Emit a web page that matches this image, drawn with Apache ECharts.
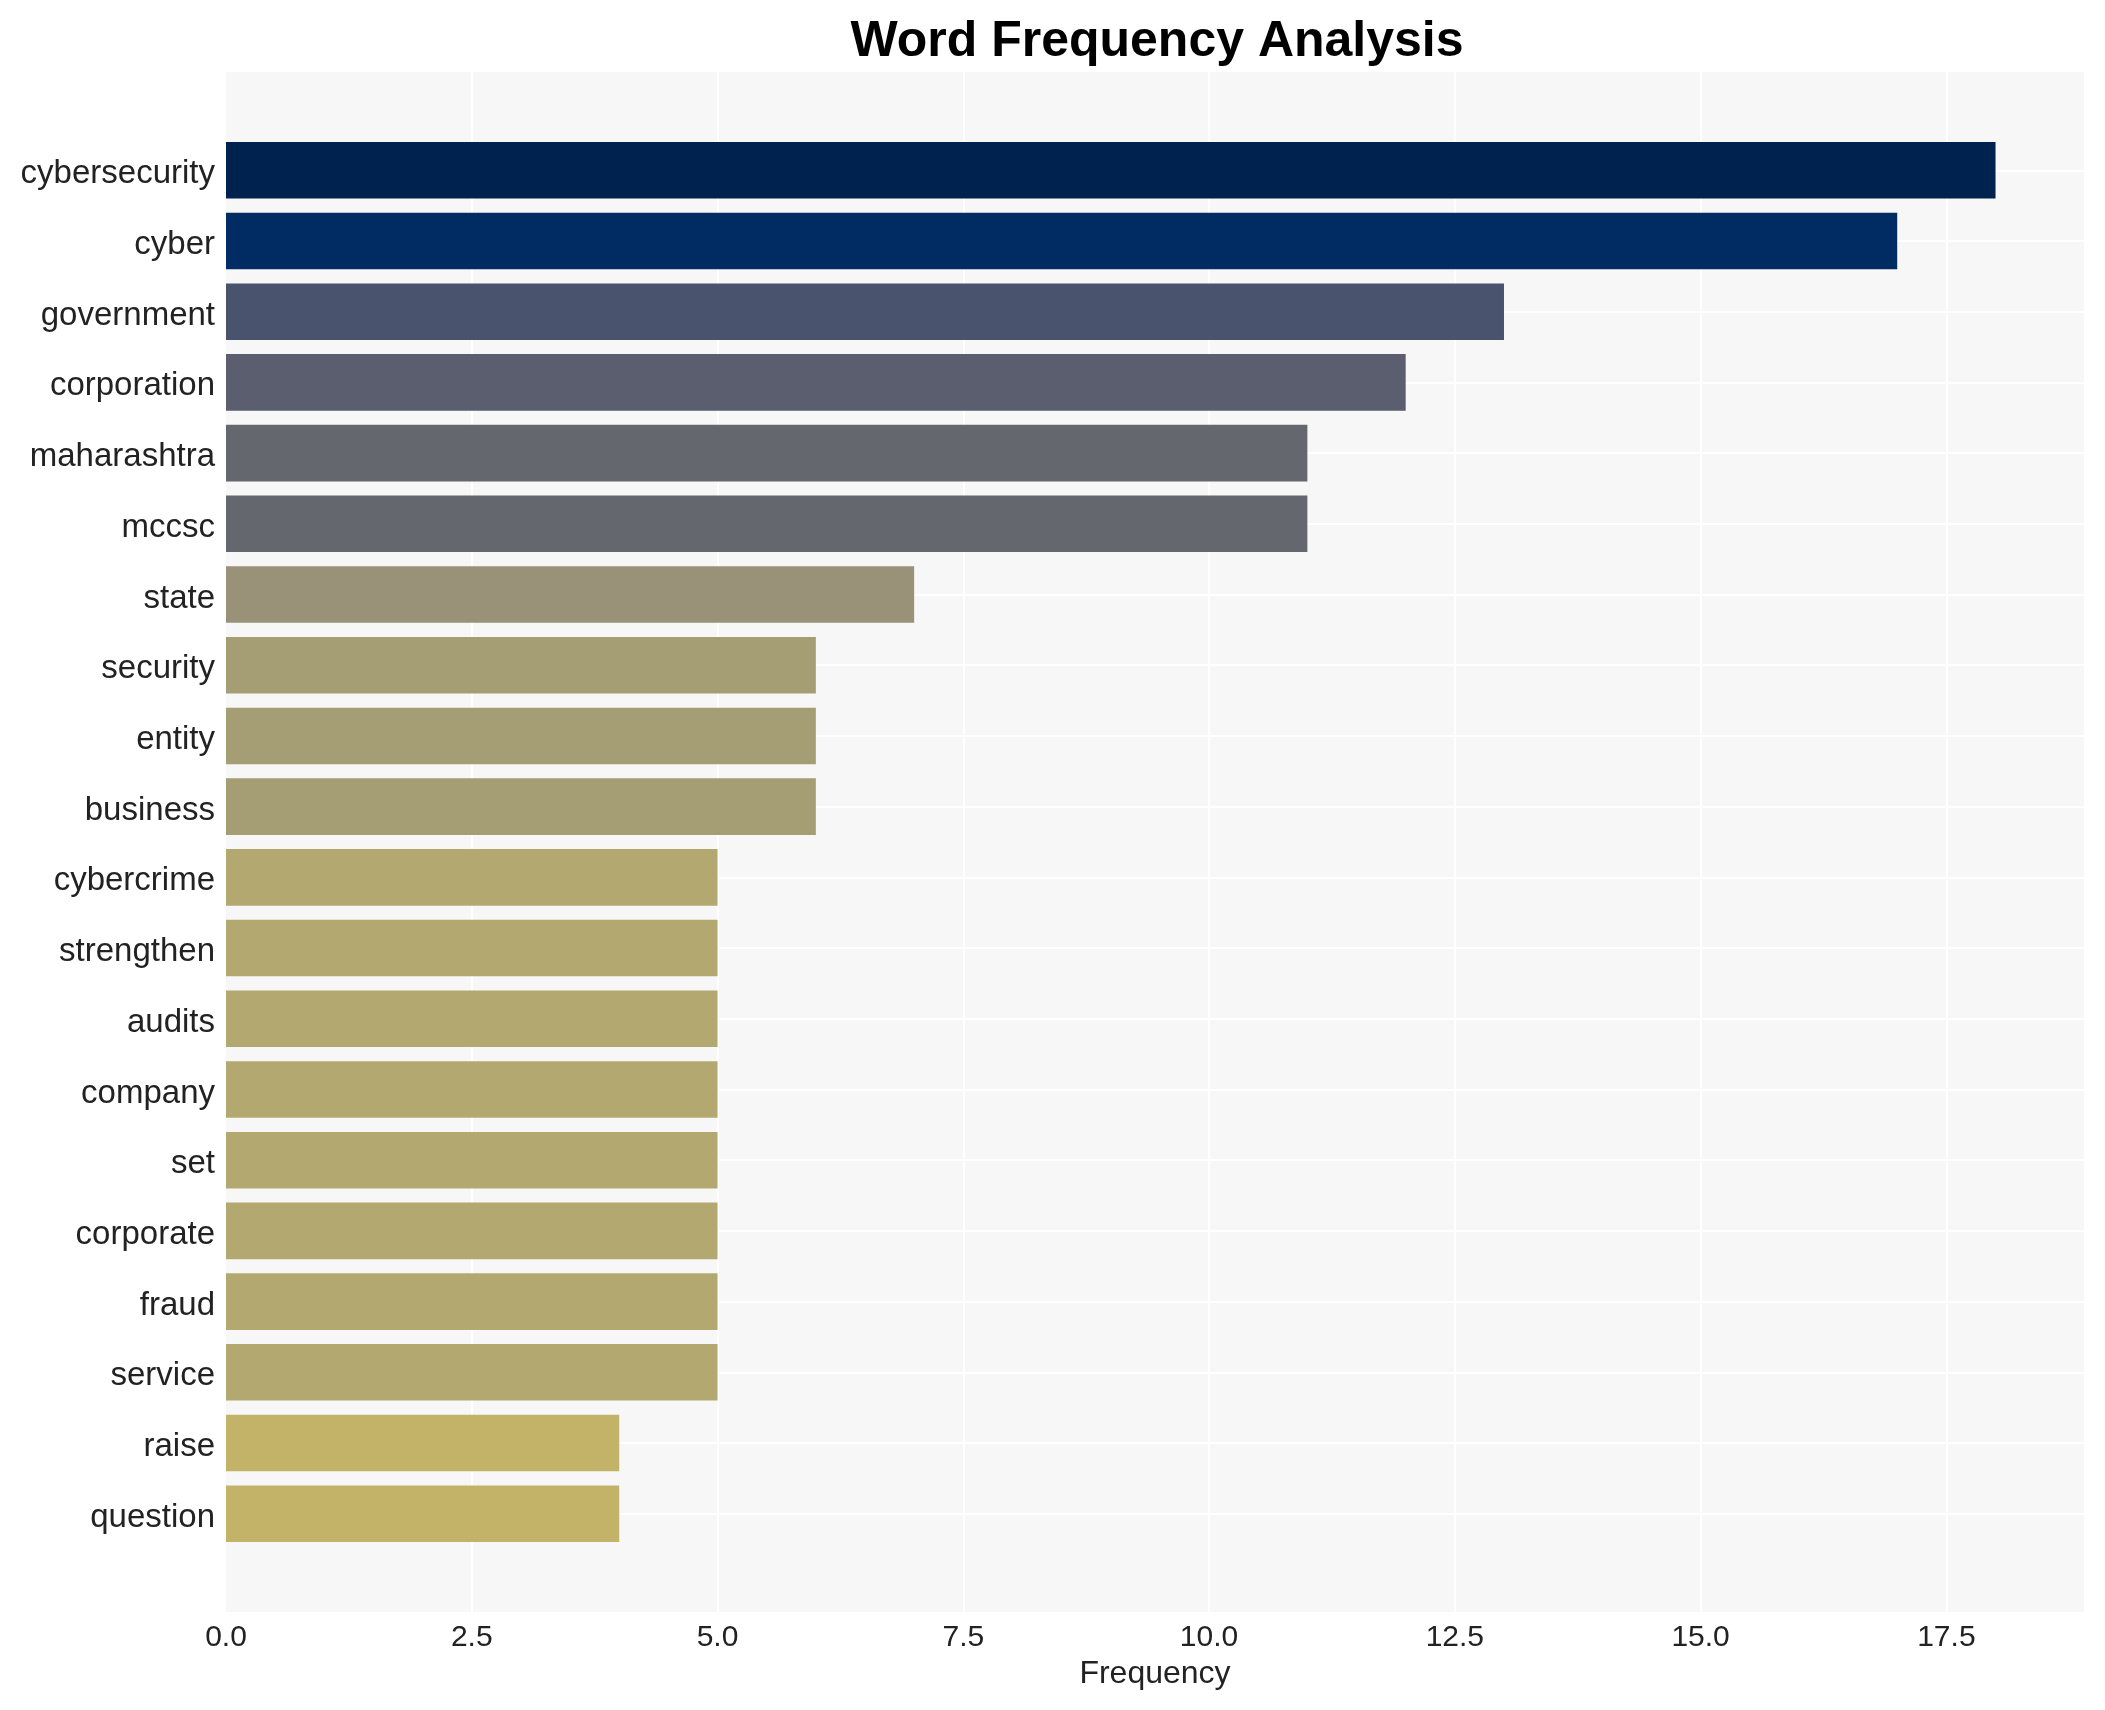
<!DOCTYPE html>
<html>
<head>
<meta charset="utf-8">
<script src="https://cdn.jsdelivr.net/npm/echarts@6/dist/echarts.min.js"></script>
<style>
html,body{margin:0;padding:0;background:#fff;}
#chart{width:2105px;height:1710px;}
</style>
</head>
<body>
<div id="chart"></div>
<script>
const categories = ['cybersecurity','cyber','government','corporation','maharashtra','mccsc','state','security','entity','business','cybercrime','strengthen','audits','company','set','corporate','fraud','service','raise','question'];
const values = [18,17,13,12,11,11,7,6,6,6,5,5,5,5,5,5,5,5,4,4];
const barColors = ['#00224e','#002b63','#49536e','#5a5e6e','#65676f','#65676f','#999278','#a59d74','#a59d74','#a59d74','#b4a871','#b4a871','#b4a871','#b4a871','#b4a871','#b4a871','#b4a871','#b4a871','#c3b369','#c3b369'];
const xMax = 18.9;
const xTickStep = 2.5;

// layout (pixels)
const L = 226, R = 2084, T = 72, B = 1612;
const W = R - L, H = B - T;
const yLo = -1.39, yHi = 20.39;
const pxU = H / (yHi - yLo);
const g1Top = T + (-1 - yLo) * pxU;
const g1H = 21 * pxU;
const g2Top = T + (-0.5 - yLo) * pxU;
const g2H = categories.length * pxU;

const font = "'Liberation Sans', Arial, sans-serif";
const chart = echarts.init(document.getElementById('chart'), null, {renderer: 'canvas'});
chart.setOption({
  backgroundColor: '#ffffff',
  animation: false,
  title: {
    text: 'Word Frequency Analysis',
    left: (L + R) / 2 - 3,
    textAlign: 'center',
    top: 12,
    textStyle: {fontFamily: font, fontSize: 50, fontWeight: 'bold', color: '#000'}
  },
  grid: [
    {left: L, top: T, width: W, height: H, show: true, backgroundColor: '#f7f7f7', borderWidth: 0, containLabel: false},
    {left: L, top: g1Top, width: W, height: g1H, show: false, containLabel: false},
    {left: L, top: g2Top, width: W, height: g2H, show: false, containLabel: false}
  ],
  xAxis: [
    {
      gridIndex: 0, type: 'value', min: 0, max: xMax, interval: xTickStep,
      name: 'Frequency', nameLocation: 'middle', nameGap: 44,
      nameTextStyle: {fontFamily: font, fontSize: 32, color: '#222'},
      axisLine: {show: false}, axisTick: {show: false},
      axisLabel: {show: true, fontFamily: font, fontSize: 30, color: '#222', margin: 11, showMaxLabel: false,
        formatter: v => v.toFixed(1)},
      splitLine: {show: true, showMinLine: false, showMaxLine: false, lineStyle: {color: '#ffffff', width: 2}}
    },
    {gridIndex: 1, type: 'value', min: 0, max: xMax, show: false, splitLine: {show: false}},
    {gridIndex: 2, type: 'value', min: 0, max: xMax, show: false, splitLine: {show: false}}
  ],
  yAxis: [
    {gridIndex: 0, type: 'value', min: 0, max: 1, show: false, splitLine: {show: false}},
    {
      gridIndex: 1, type: 'value', min: -1, max: 20, interval: 1, inverse: true,
      axisLine: {show: false}, axisTick: {show: false}, axisLabel: {show: false},
      splitLine: {show: true, showMinLine: false, showMaxLine: false, lineStyle: {color: '#ffffff', width: 2}}
    },
    {
      gridIndex: 2, type: 'category', data: categories, inverse: true,
      axisLine: {show: false}, axisTick: {show: false},
      axisLabel: {fontFamily: font, fontSize: 33, color: '#222', margin: 11, verticalAlign: 'top', lineHeight: 8},
      splitLine: {show: false}
    }
  ],
  series: [{
    type: 'bar',
    xAxisIndex: 2, yAxisIndex: 2,
    barCategoryGap: '20%',
    data: values.map((v, i) => ({value: v, itemStyle: {color: barColors[i]}}))
  }]
});
</script>
</body>
</html>
